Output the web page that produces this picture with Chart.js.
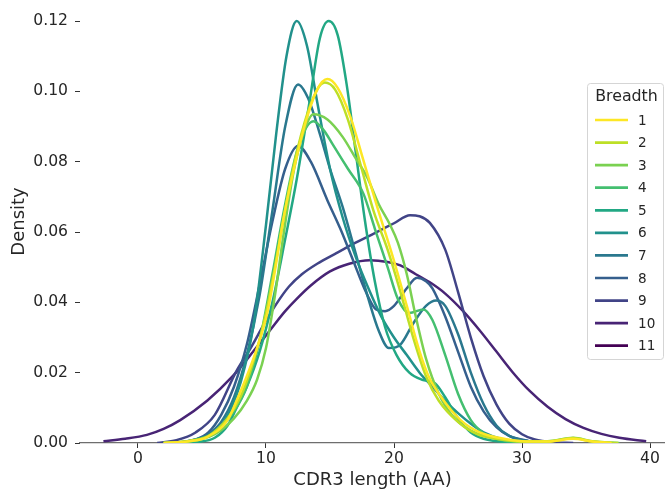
<!DOCTYPE html>
<html lang="en">
<head>
    <meta charset="UTF-8">
    <title>CDR3 length density by breadth</title>
    <script src="https://cdn.jsdelivr.net/npm/chart.js"></script>
    <style>
        body { margin: 0; background: #fff; }
        canvas { display: block; }
    </style>
</head>
<body>
    <canvas id="kdeChart" width="665" height="489"></canvas>

    <script>
        // Hue levels shown in the legend
        const breadthLabels = ['1', '2', '3', '4', '5', '6', '7', '8', '9', '10', '11'];

        // Density curves, [CDR3 length, density]
        const kde1 = [[2,0],[4,0.0005],[5.4,0.0017],[7,0.0065],[7.7,0.012],[8.5,0.019],[9.3,0.027],[10.1,0.037],[10.7,0.049],[11.3,0.0626],[12,0.075],[13,0.090],[14,0.1005],[14.8,0.1035],[15.6,0.101],[16.6,0.0927],[17.6,0.0805],[18.7,0.067],[19.9,0.053],[21,0.039],[22,0.026],[22.7,0.019],[23.6,0.0135],[25.2,0.0065],[26.7,0.003],[28.3,0.0014],[30,0.0005],[32,0.0004],[34,0.0012],[35.5,0.0004],[37,0]];
        const kde2 = [[2,0],[4,0.0006],[5.5,0.002],[7,0.007],[8,0.013],[9,0.023],[10,0.037],[11,0.056],[12,0.076],[13,0.091],[14,0.1005],[14.6,0.1025],[15.4,0.1005],[16.4,0.092],[17.4,0.079],[18.4,0.066],[19.5,0.055],[20.5,0.043],[21.5,0.030],[22.5,0.019],[23.5,0.012],[25,0.006],[26.5,0.0025],[28,0.0012],[30,0.0004],[32,0.0004],[34,0.0014],[35.5,0.0004],[37.5,0]];
        const kde3 = [[2,0],[4,0.0004],[6,0.0025],[7.5,0.007],[8.5,0.012],[9.3,0.018],[10,0.027],[10.7,0.042],[11.4,0.06],[12.2,0.078],[13,0.089],[13.7,0.0935],[14.8,0.092],[16,0.087],[17,0.081],[17.9,0.0756],[18.8,0.068],[19.7,0.062],[20.3,0.057],[21,0.048],[21.7,0.036],[22.5,0.024],[23.5,0.014],[24.5,0.008],[26,0.0035],[28,0.0012],[30,0.0005],[32,0.0005],[34,0.0015],[35.5,0.0005],[37.6,0]];
        const kde4 = [[2,0],[4,0.0006],[6,0.003],[7.5,0.009],[8.5,0.016],[9.5,0.029],[10.5,0.048],[11.5,0.068],[12.5,0.084],[13.7,0.0915],[14.5,0.089],[15.2,0.085],[16.4,0.078],[17.6,0.071],[18.5,0.061],[19.5,0.050],[20.3,0.041],[21.2,0.037],[22.3,0.038],[23,0.035],[24,0.025],[25,0.014],[26,0.0065],[27,0.0028],[28.5,0.0008],[30,0.0002],[32,0]];
        const kde5 = [[3,0],[4.7,0.0003],[6,0.0015],[7,0.005],[7.7,0.010],[8.5,0.016],[9.5,0.026],[10.5,0.040],[11.5,0.058],[12.4,0.075],[13.4,0.097],[14.2,0.115],[14.9,0.120],[15.6,0.116],[16.3,0.102],[17,0.083],[17.7,0.064],[18.5,0.046],[19.3,0.033],[20.2,0.025],[21.2,0.020],[22.2,0.018],[23.2,0.017],[24,0.013],[25,0.007],[26,0.003],[27,0.0012],[28.5,0.0003],[30,0]];
        const kde6 = [[3,0],[4.5,0.0008],[5.5,0.002],[6.5,0.005],[7.3,0.010],[8,0.017],[9,0.033],[10,0.062],[10.8,0.088],[11.6,0.110],[12.4,0.120],[13.2,0.113],[14,0.097],[15,0.078],[16,0.064],[17,0.053],[18,0.044],[19,0.036],[20,0.030],[21,0.025],[22,0.020],[23,0.016],[24,0.012],[25,0.0085],[26,0.0055],[27,0.003],[28.5,0.001],[30,0.0003],[32,0]];
        const kde7 = [[3,0],[4.5,0.001],[5.5,0.0025],[6.5,0.006],[7.5,0.013],[8.5,0.025],[9.5,0.042],[10.5,0.066],[11.5,0.090],[12.5,0.102],[13.3,0.098],[14.2,0.088],[15,0.078],[16,0.067],[17,0.054],[18,0.041],[18.8,0.032],[19.6,0.027],[20.5,0.028],[21.5,0.034],[22.5,0.039],[23.3,0.0405],[24,0.039],[25,0.031],[26,0.020],[27,0.011],[28,0.005],[29,0.002],[30.5,0.0005],[32,0]];
        const kde8 = [[3,0],[4.5,0.001],[5.5,0.003],[6.5,0.008],[7.5,0.016],[8.5,0.028],[9.5,0.045],[10.5,0.063],[11.5,0.078],[12.5,0.0845],[13.5,0.080],[14.8,0.069],[15.8,0.061],[16.8,0.052],[17.8,0.043],[18.6,0.038],[19.3,0.0375],[20,0.039],[21,0.044],[21.8,0.047],[22.5,0.046],[23,0.044],[24,0.036],[25,0.026],[26,0.016],[27,0.009],[28,0.0045],[29,0.002],[30.5,0.0006],[32,0]];
        const kde9 = [[1.5,0],[3,0.0008],[4.5,0.003],[6,0.008],[7.7,0.0205],[8.8,0.027],[9.8,0.0335],[10.8,0.0395],[11.8,0.0445],[12.8,0.048],[14,0.051],[15.5,0.054],[17,0.057],[18.5,0.0597],[20,0.0625],[21.25,0.0648],[22,0.0645],[22.8,0.0626],[24,0.055],[25,0.043],[26,0.030],[27,0.019],[28,0.011],[29,0.0055],[30,0.0025],[31,0.001],[32.5,0.0002],[34,0]];
        const kde10 = [[-2.7,0.0005],[-1,0.0012],[0.7,0.0023],[2,0.004],[3.3,0.0065],[5.4,0.012],[7.4,0.019],[9,0.026],[10.3,0.032],[11.5,0.0375],[12.4,0.041],[13.5,0.0448],[15,0.0488],[16.5,0.051],[18.1,0.052],[19.5,0.0515],[20.5,0.0505],[21.7,0.048],[22.8,0.0457],[24,0.0425],[25.4,0.0375],[26.7,0.032],[28,0.026],[29.3,0.020],[30.6,0.0148],[32,0.0103],[33.4,0.0068],[34.8,0.0043],[36.2,0.0026],[37.6,0.0015],[39.7,0.0005]];
        const kde11 = []; // no curve drawn for this level

        const xTickValues = [0, 10, 20, 30, 40];
        const yTickValues = [0, 0.02, 0.04, 0.06, 0.08, 0.10, 0.12];

        // viridis, reversed so breadth 1 is yellow
        const palette = ['#fde725', '#bddf26', '#7ad151', '#44bf70', '#22a884', '#21918c',
                         '#2a788e', '#355f8d', '#414487', '#482475', '#440154'];

        const curves = [kde1, kde2, kde3, kde4, kde5, kde6, kde7, kde8, kde9, kde10, kde11];
        const textColor = '#262626';
        Chart.defaults.font.family = "'DejaVu Sans', sans-serif";
        Chart.defaults.color = textColor;

        // legend drawn inside the plot, like the seaborn one
        const breadthLegend = {
            id: 'breadthLegend',
            afterDraw(chart) {
                const c = chart.ctx;
                const left = 587.5, top = 83.5, w = 76, h = 276;
                c.save();
                c.beginPath();
                c.roundRect(left, top, w, h, 3);
                c.fillStyle = 'rgba(255,255,255,0.8)';
                c.fill();
                c.strokeStyle = '#d5d5d5';
                c.lineWidth = 1;
                c.stroke();

                c.fillStyle = textColor;
                c.textBaseline = 'middle';
                c.textAlign = 'center';
                c.font = "15.8px 'DejaVu Sans'";
                c.fillText('Breadth', 626.5, 97);

                c.textAlign = 'left';
                c.font = "13.6px 'DejaVu Sans'";
                chart.data.datasets.forEach((ds, i) => {
                    const y = 120 + i * 22.57;
                    c.beginPath();
                    c.moveTo(595, y);
                    c.lineTo(628, y);
                    c.strokeStyle = ds.borderColor;
                    c.lineWidth = 2.7;
                    c.stroke();
                    c.fillText(ds.label, 638, y + 1);
                });
                c.restore();
            }
        };

        const ctx = document.getElementById('kdeChart').getContext('2d');

        const kdeChart = new Chart(ctx, {
            type: 'line',
            data: {
                datasets: curves.map((pts, i) => ({
                    label: breadthLabels[i],
                    data: pts.map(p => ({ x: p[0], y: p[1] })),
                    borderColor: palette[i],
                    backgroundColor: palette[i],
                    fill: false
                }))
            },
            options: {
                responsive: false,
                animation: false,
                layout: { padding: 0 },
                elements: {
                    point: { radius: 0 },
                    line: { borderWidth: 2.5, cubicInterpolationMode: 'monotone' }
                },
                plugins: {
                    legend: { display: false },
                    tooltip: { enabled: false }
                },
                scales: {
                    x: {
                        type: 'linear',
                        min: -4.53,
                        max: 41.17,
                        afterBuildTicks: s => { s.ticks = xTickValues.map(v => ({ value: v })); },
                        afterFit: s => { s.height = 46; s.paddingLeft = 0; s.paddingRight = 0; },
                        ticks: { padding: 2, font: { size: 15.6 } },
                        grid: { drawOnChartArea: false, tickLength: 5, color: '#333333' },
                        border: { display: true, color: '#6e6e6e', width: 1.2 },
                        title: {
                            display: true,
                            text: 'CDR3 length (AA)',
                            font: { size: 18, lineHeight: 1 },
                            padding: { top: 0, bottom: 0 }
                        }
                    },
                    y: {
                        min: 0,
                        max: 0.126,
                        afterBuildTicks: s => { s.ticks = yTickValues.map(v => ({ value: v })); },
                        afterFit: s => { s.width = 80; s.paddingTop = 0; s.paddingBottom = 0; },
                        ticks: { padding: 7, font: { size: 15.6 }, callback: v => v.toFixed(2) },
                        grid: { drawOnChartArea: false, tickLength: 5, color: '#333333' },
                        border: { display: false },
                        title: {
                            display: true,
                            text: 'Density',
                            font: { size: 18, lineHeight: 1 },
                            padding: { top: 10, bottom: 0 }
                        }
                    }
                }
            },
            plugins: [breadthLegend]
        });
    </script>
</body>
</html>
